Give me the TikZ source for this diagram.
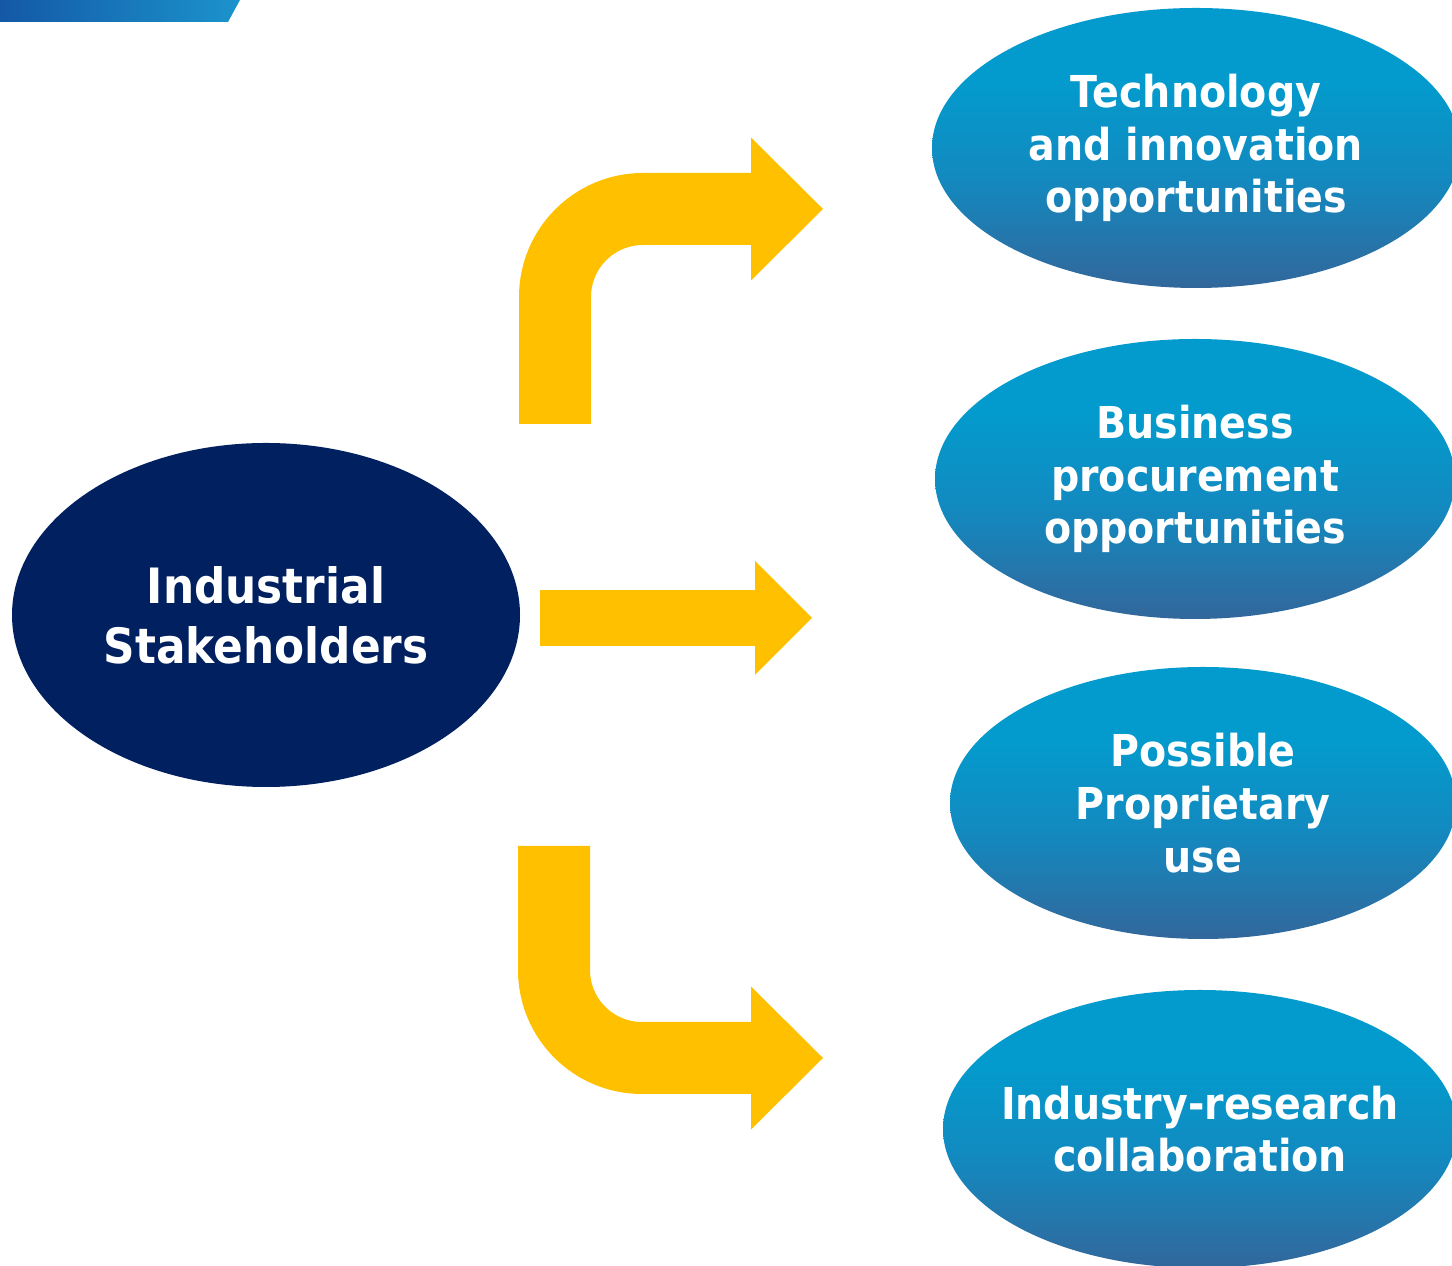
\documentclass[tikz,border=0pt]{standalone}
\usepackage{fontspec}
\newfontfamily\bubblefont{DejaVu Sans}[FakeStretch=0.9]
\usetikzlibrary{shapes.geometric, arrows.meta, calc}

\definecolor{hubnavy}{RGB}{0,32,96}
\definecolor{arrowgold}{RGB}{255,192,0}
\definecolor{goaltop}{RGB}{3,155,205}
\definecolor{goalmid}{RGB}{18,138,192}
\definecolor{goalbot}{RGB}{50,103,155}
\definecolor{barleft}{RGB}{20,88,166}
\definecolor{barright}{RGB}{27,148,204}

\pgfdeclareverticalshading{goalfade}{100bp}{%
  color(0bp)=(goalbot); color(25bp)=(goalbot); color(45bp)=(goalmid);
  color(62bp)=(goaltop); color(100bp)=(goaltop)}

\tikzset{
  hub/.style={ellipse, fill=hubnavy, text=white, inner sep=0pt,
    minimum width=10.16cm, minimum height=6.88cm, align=center,
    font=\bubblefont\bfseries\fontsize{27.7}{34}\selectfont},
  goal/.style={ellipse, shading=goalfade, text=white, inner ysep=0pt,
    inner xsep=-0.8cm, align=center,
    font=\bubblefont\bfseries\fontsize{25}{30}\selectfont},
  flow/.style={draw=arrowgold, line width=1.44cm, rounded corners=1.76cm,
    -{Triangle[length=1.44cm, width=2.86cm, line width=0pt]}},
  flow thin/.style={draw=arrowgold, line width=1.12cm,
    -{Triangle[length=1.14cm, width=2.28cm, line width=0pt]}}
}

\begin{document}
\begin{tikzpicture}

\useasboundingbox (0,0) rectangle (29.04,25.32);

%% ── Header strip ───────────────────────────────────────
\shade[left color=barleft, right color=barright]
  (0,25.32) -- (4.8,25.32) -- (4.56,24.88) -- (0,24.88) -- cycle;

%% ── Stakeholder hub ────────────────────────────────────
\node[hub] (hub) at (5.32,13.02) {Industrial\\Stakeholders};

%% ── Outcome bubbles ────────────────────────────────────
\node[goal, minimum width=10.56cm, minimum height=5.6cm]  (tech)    at (23.92,22.36) {Technology\\and innovation\\opportunities};
\node[goal, minimum width=10.4cm,  minimum height=5.6cm]  (procure) at (23.90,15.74) {Business\\procurement\\opportunities};
\node[goal, minimum width=10.12cm, minimum height=5.44cm] (propr)   at (24.06, 9.26) {Possible\\Proprietary\\use};
\node[goal, minimum width=10.28cm, minimum height=5.56cm] (collab)  at (24.00, 2.74) {Industry-research\\collaboration};

%% ── Arrows ─────────────────────────────────────────────
\coordinate (upfoot)   at (11.10,16.84);
\coordinate (uptip)    at (16.46,21.14);
\coordinate (midfoot)  at (10.80,12.96);
\coordinate (midtip)   at (16.24,12.96);
\coordinate (downfoot) at (11.08, 8.40);
\coordinate (downtip)  at (16.46, 4.16);

\draw[flow]      (upfoot)   |- (uptip);    % bend up
\draw[flow thin] (midfoot)  -- (midtip);   % straight on
\draw[flow]      (downfoot) |- (downtip);  % bend down

\end{tikzpicture}
\end{document}
